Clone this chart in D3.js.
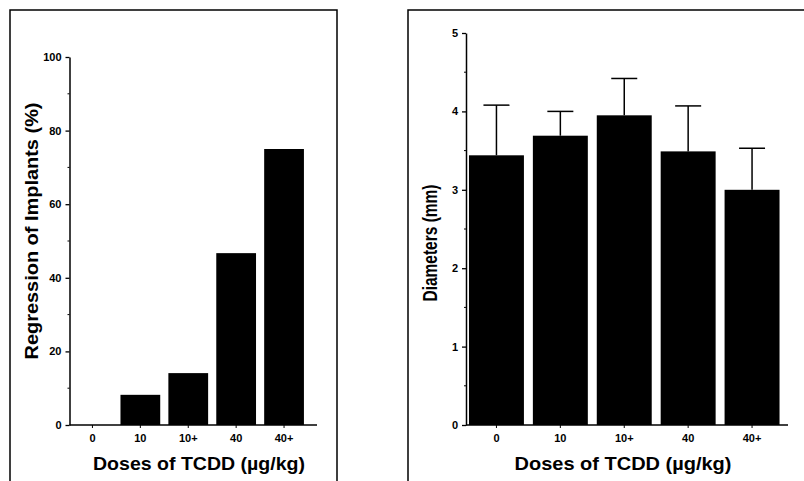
<!DOCTYPE html>
<html>
<head>
<meta charset="utf-8">
<script src="https://cdn.jsdelivr.net/npm/d3@7"></script>
<style>
  body { margin: 0; background: #fff; }
  svg { display: block; }
  text { font-family: "Liberation Sans", Arial, sans-serif; font-weight: bold; fill: #000; }
</style>
</head>
<body>
<div id="main"></div>
<script>
const W = 804, H = 481;

// data
const doses = ["0", "10", "10+", "40", "40+"];
const regression = [0, 8.2, 14.1, 46.7, 75.0];
const diameters = [3.44, 3.69, 3.95, 3.49, 3.0];
const diameterErr = [0.64, 0.31, 0.47, 0.58, 0.53];
const regTicks = [0, 20, 40, 60, 80, 100];
const diaTicks = [0, 1, 2, 3, 4, 5];

const svg = d3.select("#main").append("svg")
    .attr("width", W)
    .attr("height", H);

// panel frames (open at the bottom)
svg.append("path")
    .attr("d", "M10,490V10H337V490")
    .attr("fill", "none").attr("stroke", "#000").attr("stroke-width", 1.5);
svg.append("path")
    .attr("d", "M408,490V10H810")
    .attr("fill", "none").attr("stroke", "#000").attr("stroke-width", 1.5);

function drawPanel(opt) {
    const g = svg.append("g");

    const x = d3.scaleBand()
        .domain(doses)
        .range(opt.xRange)
        .paddingInner(opt.pad)
        .paddingOuter(opt.pad / 2);

    const y = d3.scaleLinear()
        .domain(opt.yDomain)
        .range([425, opt.yTop]);

    // bars
    g.selectAll("rect.bar")
        .data(opt.values)
        .enter()
        .append("rect")
        .attr("class", "bar")
        .attr("x", (d, i) => x(doses[i]))
        .attr("width", x.bandwidth())
        .attr("y", d => y(d))
        .attr("height", d => y(0) - y(d))
        .attr("fill", "#000");

    // error bars, upper half only
    if (opt.errors) {
        const err = g.selectAll("g.err")
            .data(opt.values)
            .enter()
            .append("g")
            .attr("class", "err")
            .attr("transform", (d, i) => `translate(${x(doses[i]) + x.bandwidth() / 2},0)`);
        err.append("line")
            .attr("y1", d => y(d))
            .attr("y2", (d, i) => y(d + opt.errors[i]))
            .attr("stroke", "#000").attr("stroke-width", 1.5);
        err.append("line")
            .attr("x1", -13).attr("x2", 13)
            .attr("y1", (d, i) => y(d + opt.errors[i]))
            .attr("y2", (d, i) => y(d + opt.errors[i]))
            .attr("stroke", "#000").attr("stroke-width", 1.5);
    }

    // y axis
    const yAxis = g.append("g")
        .attr("transform", `translate(${opt.axisX},0)`)
        .call(d3.axisLeft(y).tickValues(opt.ticks).tickFormat(d3.format("d"))
            .tickSize(4).tickSizeOuter(0).tickPadding(4));
    yAxis.select(".domain").attr("stroke-width", 1.5);
    yAxis.selectAll(".tick line").attr("stroke-width", 1.3);
    yAxis.selectAll("text")
        .style("font-size", "11px")
        .style("font-family", "'Liberation Sans', Arial, sans-serif")
        .style("font-weight", "bold");

    // minor ticks
    const minor = d3.range(opt.minorStep, opt.yDomain[1], opt.minorStep * 2);
    g.selectAll("line.minor")
        .data(minor)
        .enter()
        .append("line")
        .attr("x1", opt.axisX - 2).attr("x2", opt.axisX)
        .attr("y1", d => y(d)).attr("y2", d => y(d))
        .attr("stroke", "#000").attr("stroke-width", 1);

    // x axis
    const xAxis = g.append("g")
        .attr("transform", `translate(0,${y(0)})`)
        .call(d3.axisBottom(x).tickSize(3).tickSizeOuter(0).tickPadding(6));
    xAxis.select(".domain")
        .attr("d", `M${opt.axisX},0H${opt.axisEnd}`)
        .attr("stroke-width", 1.5);
    xAxis.selectAll("text")
        .style("font-size", "11px")
        .style("font-family", "'Liberation Sans', Arial, sans-serif")
        .style("font-weight", "bold");

    // titles
    g.append("text")
        .attr("x", opt.xTitleX)
        .attr("y", 470)
        .attr("text-anchor", "middle")
        .attr("textLength", opt.xTitleLen)
        .attr("lengthAdjust", "spacingAndGlyphs")
        .style("font-size", "19px")
        .text("Doses of TCDD (µg/kg)");

    g.append("text")
        .attr("transform", `translate(${opt.yTitleX},${opt.yTitleY}) rotate(-90)`)
        .attr("text-anchor", "middle")
        .attr("textLength", opt.yTitleLen)
        .attr("lengthAdjust", "spacingAndGlyphs")
        .style("font-size", opt.yTitleSize)
        .text(opt.yTitle);
}

drawPanel({
    values: regression,
    yDomain: [0, 100],
    yTop: 57,
    ticks: regTicks,
    minorStep: 10,
    xRange: [68.5, 308],
    pad: 0.17,
    axisX: 69.5,
    axisEnd: 317,
    xTitleX: 199,
    xTitleLen: 212,
    yTitle: "Regression of Implants (%)",
    yTitleSize: "19px",
    yTitleX: 38,
    yTitleY: 231,
    yTitleLen: 257
});

drawPanel({
    values: diameters,
    errors: diameterErr,
    yDomain: [0, 5],
    yTop: 33,
    ticks: diaTicks,
    minorStep: 0.5,
    xRange: [464.5, 784],
    pad: 0.14,
    axisX: 466,
    axisEnd: 788,
    xTitleX: 623,
    xTitleLen: 217,
    yTitle: "Diameters (mm)",
    yTitleSize: "21px",
    yTitleX: 437,
    yTitleY: 243,
    yTitleLen: 117
});
</script>
</body>
</html>
